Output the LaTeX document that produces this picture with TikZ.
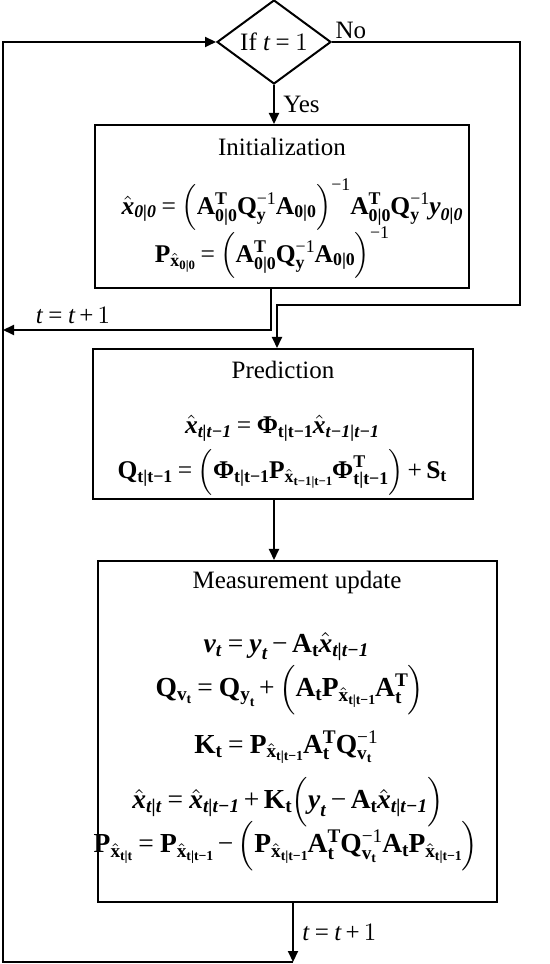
\documentclass[tikz,border=0pt]{standalone}
\usepackage{amsmath,amssymb}
\usepackage{fontspec}
\setmainfont{Liberation Serif}
\usepackage{tikz}
\usetikzlibrary{arrows.meta,shapes.geometric,positioning,calc}

\newcommand{\bv}[1]{\mathbf{#1}}
\newcommand{\bs}[1]{\textbf{#1}}
\newcommand{\bi}[1]{\textbf{\textit{#1}}}
\newcommand{\xh}{\hat{\bi{x}}}
\newcommand{\bPhi}{\textbf{Φ}}
\newcommand{\Px}[1]{\bv{P}_{\hat{\bs{x}}_{\bs{#1}}}}
\newcommand{\eqs}{\mathrel{\text{=}}}
\newcommand{\pl}{\mathbin{\text{+}}}
\newcommand{\mi}{\mathbin{\text{−}}}
\newcommand{\inv}{^{\text{−1}}}
\newcommand{\pp}[1]{{\left(\vrule width 0pt height 12pt depth 7pt\relax#1\right)}}
\thickmuskip=4mu plus 1mu
\medmuskip=3mu plus 1mu
\scriptspace=0pt

\begin{document}
\begin{tikzpicture}[x=0.4pt,y=-0.4pt,line width=0.8pt,
  flow/.style={-{Triangle[length=4.4pt,width=4pt]}},
  decision/.style={diamond,draw,aspect=1.36,inner sep=0pt,minimum width=45.6pt,minimum height=33.6pt},
  stage/.style={draw,rectangle,inner sep=0pt},
  eq/.style={inner sep=0pt,font=\fontsize{10.2}{12}\selectfont},
  eqL/.style={inner sep=0pt,font=\fontsize{11}{12}\selectfont}]
\useasboundingbox (0,0) rectangle (550,964);

% decision
\node[decision] (cond) at (274,42) {If $\textit{t}\eqs1$};

% boxes
\node[stage,minimum width=149.6pt,minimum height=65.2pt] (init) at (282,206.5) {};
\node[stage,minimum width=152pt,minimum height=60pt] (pred) at (283,424) {};
\node[stage,minimum width=159.6pt,minimum height=136.4pt] (meas) at (297.5,731.5) {};

% initialization
\node (initT) at (282,147) {Initialization};
\node[eq] (initA) at (292,205) {$\xh_{\bi{0|0}}\eqs\pp{\bv{A}^{\bs{T}}_{\bs{0|0}}\bv{Q}\inv_{\bs{y}}\bv{A}_{\bs{0|0}}}\inv\bv{A}^{\bs{T}}_{\bs{0|0}}\bv{Q}\inv_{\bs{y}}\bi{y}_{\bi{0|0}}$};
\node[eq] (initB) at (272,253) {$\Px{0|0}\eqs\pp{\bv{A}^{\bs{T}}_{\bs{0|0}}\bv{Q}\inv_{\bs{y}}\bv{A}_{\bs{0|0}}}\inv$};

% prediction
\node (predT) at (283,370) {Prediction};
\node[eq] (predA) at (282,428) {$\xh_{\bi{t|t−1}}\eqs\bPhi_{\bs{t|t−1}}\xh_{\bi{t−1|t−1}}$};
\node[eq] (predB) at (282,472) {$\bv{Q}_{\bs{t|t−1}}\eqs\pp{\bPhi_{\bs{t|t−1}}\Px{t−1|t−1}\bPhi^{\bs{T}}_{\bs{t|t−1}}}\pl\bv{S}_{\bs{t}}$};

% measurement update
\node (measT) at (297,582) {Measurement update};
\node[eqL] (measA) at (286,647) {$\bi{v}_{\bi{t}}\eqs\bi{y}_{\bi{t}}\mi\bv{A}_{\bs{t}}\xh_{\bi{t|t−1}}$};
\node[eqL] (measB) at (290,690) {$\bv{Q}_{\bs{v}_{\bs{t}}}\eqs\bv{Q}_{\bs{y}_{\bs{t}}}\pl\pp{\bv{A}_{\bs{t}}\Px{t|t−1}\bv{A}^{\bs{T}}_{\bs{t}}}$};
\node[eqL] (measC) at (286,747) {$\bv{K}_{\bs{t}}\eqs\Px{t|t−1}\bv{A}^{\bs{T}}_{\bs{t}}\bv{Q}\inv_{\bs{v}_{\bs{t}}}$};
\node[eqL] (measD) at (288,802) {$\xh_{\bi{t|t}}\eqs\xh_{\bi{t|t−1}}\pl\bv{K}_{\bs{t}}\pp{\bi{y}_{\bi{t}}\mi\bv{A}_{\bs{t}}\xh_{\bi{t|t−1}}}$};
\node[eqL] (measE) at (286,846) {$\Px{t|t}\eqs\Px{t|t−1}\mi\pp{\Px{t|t−1}\bv{A}^{\bs{T}}_{\bs{t}}\bv{Q}\inv_{\bs{v}_{\bs{t}}}\bv{A}_{\bs{t}}\Px{t|t−1}}$};

% loop points
\coordinate (loopTop) at (3,42);
\coordinate (loopBot) at (3,962);
\coordinate (noA) at (520,42);
\coordinate (noB) at (520,305);
\coordinate (noC) at (277,305);
\coordinate (back) at (271,330);
\coordinate (exit) at (293,962);

% connectors
\draw[flow] (cond.south) -- node[right] (yes) {Yes} (cond.south |- init.north);
\node[above right,inner sep=1pt] (no) at (cond.east) {No};
\draw[flow] (cond.east) -- (noA) -- (noB) -- (noC) -- (noC |- pred.north);
\draw[flow] (back |- init.south) -- (back) -- (back -| loopTop);
\node (inc1) at (73,316) {$\textit{t}\eqs\textit{t}\pl1$};
\draw[flow] (cond.south |- pred.south) -- (cond.south |- meas.north);
\draw[flow] (exit |- meas.south) -- node[right] (inc2) {$\textit{t}\eqs\textit{t}\pl1$} (exit);
\draw[flow] (exit) -- (loopBot) -- (loopTop) -- (cond.west);
\end{tikzpicture}
\end{document}
